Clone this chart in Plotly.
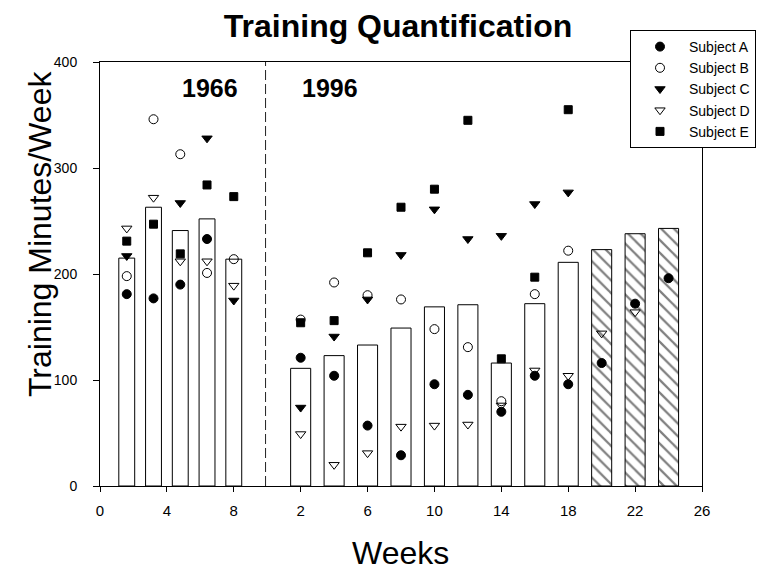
import plotly.graph_objects as go

# ---------------- data ----------------
subjects = ["Subject A", "Subject B", "Subject C", "Subject D", "Subject E"]

weeks_1966 = [1.6, 3.2, 4.8, 6.4, 8.0]
weeks_1996 = [2, 4, 6, 8, 10, 12, 14, 16, 18, 20, 22, 24]
OFFSET_1996 = 10  # 1996 week w is drawn at axis position w + 10

mean_1966 = [215, 263, 241, 252, 214]
mean_1996 = [111, 123, 133, 149, 169, 171, 116, 172, 211, 223, 238, 243]
hatched_1996 = [False, False, False, False, False, False, False, False, False, True, True, True]

a_1966 = [181, 177, 190, 233, None]
b_1966 = [198, 346, 313, 201, 214]
c_1966 = [217, None, 267, 328, 175]
d_1966 = [243, 272, 212, 212, 189]
e_1966 = [231, 247, 219, 284, 273]

a_1996 = [121, 104, 57, 29, 96, 86, 70, 104, 96, 116, 172, 196]
b_1996 = [157, 192, 180, 176, 148, 131, 80, 181, 222, None, None, None]
c_1996 = [74, 141, 176, 218, 261, 233, 236, 266, 277, None, None, None]
d_1996 = [49, 20, 31, 56, 57, 58, 76, 109, 104, 144, 164, None]
e_1996 = [154, 156, 220, 263, 280, 345, 120, 197, 355, None, None, None]

xtick_vals = [0, 4, 8, 12, 16, 20, 24, 28, 32, 36]
xtick_text = ["0", "4", "8", "2", "6", "10", "14", "18", "22", "26"]
ytick_vals = [0, 100, 200, 300, 400]

# ---------------- figure ----------------
FONT = "Liberation Sans, Arial, Helvetica, sans-serif"
x1996 = [w + OFFSET_1996 for w in weeks_1996]

fig = go.Figure()

fig.add_trace(go.Bar(
    x=weeks_1966, y=mean_1966, width=0.95,
    marker=dict(color="white", line=dict(color="black", width=1)),
    showlegend=False, hoverinfo="skip",
))
fig.add_trace(go.Bar(
    x=x1996, y=mean_1996, width=1.2,
    marker=dict(color="white", line=dict(color="black", width=1),
                pattern=dict(shape=["\\" if h else "" for h in hatched_1996],
                             fgcolor="black", bgcolor="white", size=9, solidity=0.25)),
    showlegend=False, hoverinfo="skip",
))

series = [
    (a_1966, a_1996, "circle", 9),
    (b_1966, b_1996, "circle-open", 9),
    (c_1966, c_1996, "triangle-down", 9),
    (d_1966, d_1996, "triangle-down-open", 9),
    (e_1966, e_1996, "square", 8),
]
for name, (v66, v96, sym, sz) in zip(subjects, series):
    fig.add_trace(go.Scatter(
        x=weeks_1966 + x1996, y=v66 + v96, mode="markers", name=name,
        marker=dict(symbol=sym, size=sz, color="black", line=dict(color="black", width=1)),
    ))

fig.add_shape(type="line", xref="x", yref="paper", x0=9.9, x1=9.9, y0=0, y1=1,
              line=dict(color="#222", width=1, dash="10px,4px"))

# helpers: reference pixel -> paper fraction (plot area 100..702 x 62..486 in the reference)
def px(xp):
    return (xp - 100) / 602

def py(yp):
    return (486 - yp) / 424

def note(text, x, y, size, angle=0):
    fig.add_annotation(text=text, x=px(x), y=py(y), xref="paper", yref="paper",
                       xanchor="center", yanchor="middle", textangle=angle,
                       showarrow=False, font=dict(size=size, color="black", family=FONT))

note("<b>1966</b>", 210, 88, 25)
note("<b>1996</b>", 330, 88, 25)
note("Training Minutes/Week", 40, 234, 32, angle=-90)
note("Weeks", 400, 553, 32)

W, H = 765, 562  # page body has an 8px margin
fig.update_layout(
    width=W, height=H,
    margin=dict(l=92, r=71, t=54, b=84),
    paper_bgcolor="white", plot_bgcolor="white",
    barmode="overlay",
    font=dict(family=FONT, color="black"),
    title=dict(text="<b>Training Quantification</b>", x=390 / W, xanchor="center",
               y=1 - 18 / H, yanchor="middle", yref="container",
               font=dict(size=32, color="black", family=FONT)),
    legend=dict(x=px(630), y=py(30), xanchor="left", yanchor="top",
                bordercolor="black", borderwidth=1, bgcolor="white",
                itemwidth=48, entrywidth=116, entrywidthmode="pixels",
                font=dict(size=14, color="black", family=FONT)),
    xaxis=dict(range=[0, 36], tickvals=xtick_vals, ticktext=xtick_text,
               showline=True, linecolor="black", linewidth=1, mirror=True,
               ticks="outside", ticklen=5, tickcolor="black",
               tickfont=dict(size=15), ticklabelstandoff=6,
               showgrid=False, zeroline=False),
    yaxis=dict(range=[0, 400], tickvals=ytick_vals,
               showline=True, linecolor="black", linewidth=1, mirror=True,
               ticks="outside", ticklen=6, tickcolor="black",
               tickfont=dict(size=14), ticklabelstandoff=13,
               showgrid=False, zeroline=False),
)

fig.write_html("out.html")
